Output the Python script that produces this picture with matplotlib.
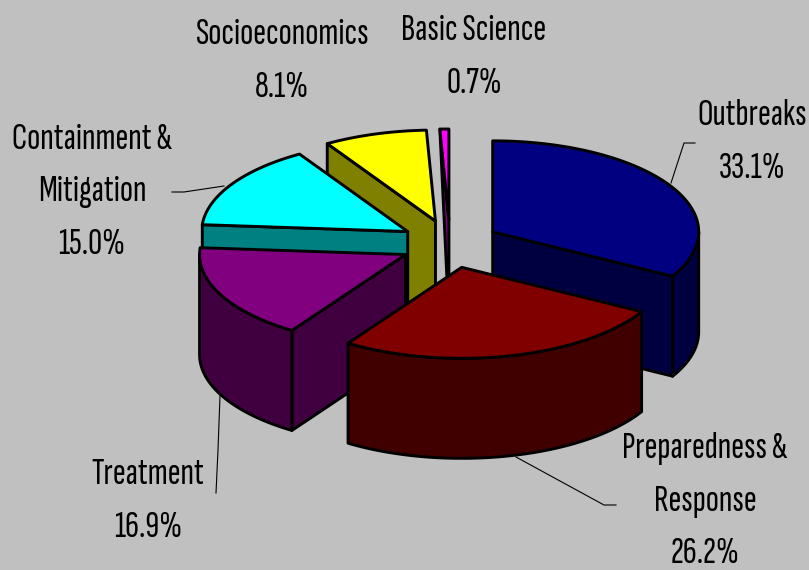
import numpy as np
from matplotlib import pyplot as plt
from matplotlib.patches import Polygon

# shares of the pie, clockwise from 12 o'clock
names = ['Outbreaks', 'Preparedness &\nResponse', 'Treatment', 'Containment &\nMitigation', 'Socioeconomics', 'Basic Science']
shares = [33.1, 26.2, 16.9, 15.0, 8.1, 0.7]
top_colors = ['#000080', '#800000', '#800080', '#00ffff', '#ffff00', '#ff00ff']
side_colors = ['#000040', '#400000', '#400040', '#008080', '#808000', '#800080']

# pie geometry in pixels
cx, cy = 450, 244
rx, ry = 206, 91
ex, ey = 49.5, 24
depth = 100
edge = 2.1

label_pos = [(752, 142), (705, 501), (148, 501), (92, 192), (282, 61), (474, 57)]
leaders = [[(695, 143), (684, 143), (671, 183)],
           [(616, 505), (604, 505), (516, 457)],
           [(216, 493), (218, 450), (220, 396)],
           [(172, 192), (184, 192), (224, 186)]]


def rim(a0, a1, x0, y0, drop=0):
    t = np.radians(np.linspace(a0, a1, max(int(abs(a1 - a0)) + 2, 2)))
    return np.column_stack([x0 + rx * np.sin(t), y0 - ry * np.cos(t) + drop])


def add_face(ax, pts, color):
    ax.add_patch(Polygon(pts, closed=True, facecolor=color, edgecolor='black',
                         linewidth=edge, joinstyle='round'))


def draw_slice(ax, a0, a1, top, side):
    mid = np.radians((a0 + a1) / 2)
    x0 = cx + ex * np.sin(mid)
    y0 = cy - ey * np.cos(mid)
    apex = np.array([[x0, y0]])
    low = np.array([[x0, y0 + depth]])

    # flat cut faces, only the ones turned to the viewer
    if a1 - a0 < 5:
        # the sliver only shows a thin triangle
        add_face(ax, np.vstack([rim(a0, a0, x0, y0), apex, low]), side)
    else:
        if np.sin(np.radians(a0)) < -1e-6:
            p = rim(a0, a0, x0, y0)
            add_face(ax, np.vstack([apex, p, p + [0, depth], low]), side)
        if np.sin(np.radians(a1)) > 1e-6:
            p = rim(a1, a1, x0, y0)
            add_face(ax, np.vstack([apex, p, p + [0, depth], low]), side)

    # outer wall, front half of the ellipse only
    w0, w1 = max(a0, 90), min(a1, 270)
    if w1 > w0:
        add_face(ax, np.vstack([rim(w0, w1, x0, y0), rim(w0, w1, x0, y0, depth)[::-1]]), side)

    add_face(ax, np.vstack([apex, rim(a0, a1, x0, y0)]), top)


fig = plt.figure(figsize=(8.09, 5.70), dpi=100, facecolor='#c0c0c0')
ax = fig.add_axes([0, 0, 1, 1])
ax.set_xlim(0, 809)
ax.set_ylim(570, 0)
ax.axis('off')

edges = np.cumsum([0] + shares) / sum(shares) * 360

# painter order, back slices first
for i in [4, 5, 3, 2, 0, 1]:
    draw_slice(ax, edges[i], edges[i + 1], top_colors[i], side_colors[i])

for line in leaders:
    xs, ys = zip(*line)
    ax.plot(xs, ys, color='black', linewidth=0.8, zorder=0.5)

for name, share, pos in zip(names, shares, label_pos):
    ax.text(pos[0], pos[1], '{0}\n{1:.1f}%'.format(name, share), ha='center', va='center',
            fontsize=28, linespacing=1.75, color='black',
            family=['Sofia Sans Extra Condensed', 'Liberation Sans'])

fig.savefig('out.png', dpi=100, facecolor=fig.get_facecolor())
